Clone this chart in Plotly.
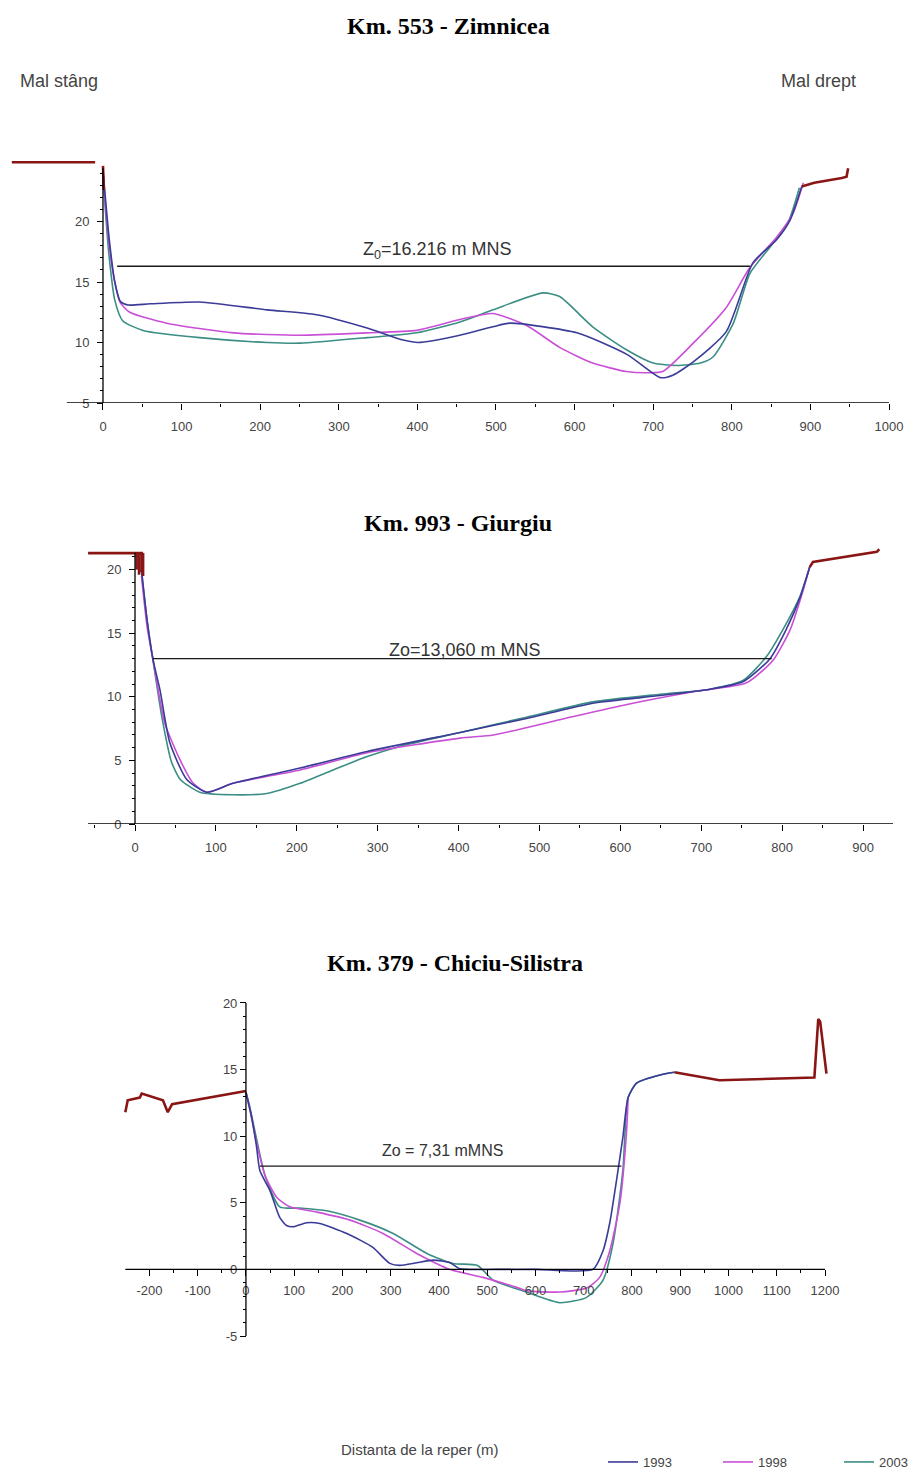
import plotly.graph_objects as go

# Screen is 921x1477; the page body adds an 8px offset, so the figure is drawn 8px in.
SW, SH = 921, 1477
OFF = 8
FW, FH = SW - OFF, SH - OFF


def fx(px):
    return (px - OFF) / FW


def fy(py):
    return 1 - (py - OFF) / FH


years = ["1993", "1998", "2003"]
colors = {"1993": "#3b3b98", "1998": "#c94fd6", "2003": "#3a8e84"}
bank_color = "#8a1515"

titles = ["Km. 553 - Zimnicea", "Km. 993 - Giurgiu", "Km. 379 - Chiciu-Silistra"]
zo_texts = ["Z<sub>0</sub>=16.216 m MNS", "Zo=13,060 m MNS", "Zo = 7,31 mMNS"]

# ---------------- Chart 1: Km 553 Zimnicea ----------------
c1_x_1993 = [0, 3, 8, 15, 22, 32, 60, 123, 209, 272, 336, 382, 401, 454, 496, 518, 603, 667, 709, 725, 751, 793, 827, 857, 874, 889]
c1_y_1993 = [24.3, 22.0, 18.5, 15.0, 13.4, 13.1, 13.2, 13.35, 12.7, 12.3, 11.2, 10.2, 10.0, 10.6, 11.3, 11.6, 10.8, 9.0, 7.1, 7.3, 8.4, 10.9, 16.6, 18.5, 20.1, 22.9]
c1_x_1998 = [0, 3, 8, 15, 22, 34, 81, 166, 251, 336, 399, 454, 496, 539, 581, 623, 666, 692, 712, 751, 793, 823, 857, 878, 891]
c1_y_1998 = [24.0, 21.5, 18.0, 15.0, 13.3, 12.5, 11.6, 10.8, 10.6, 10.8, 11.0, 11.9, 12.4, 11.4, 9.6, 8.3, 7.6, 7.5, 7.6, 9.95, 12.9, 16.2, 18.7, 20.7, 23.2]
c1_x_2003 = [0, 3, 8, 15, 25, 51, 123, 209, 251, 336, 399, 454, 496, 560, 581, 623, 666, 700, 730, 760, 776, 802, 823, 850, 872, 886]
c1_y_2003 = [24.2, 21.0, 17.0, 13.5, 11.8, 11.0, 10.4, 10.0, 9.95, 10.4, 10.8, 11.7, 12.7, 14.1, 13.8, 11.3, 9.4, 8.3, 8.1, 8.3, 8.8, 11.6, 15.7, 18.0, 20.0, 22.8]
c1_bank_x = [-116, -10, None, 0, 1, None, 889, 905, 940, 946, 948]
c1_bank_y = [24.9, 24.9, None, 24.6, 22.6, None, 22.9, 23.2, 23.6, 23.7, 24.4]

# ---------------- Chart 2: Km 993 Giurgiu ----------------
c2_x_1993 = [8, 15, 22, 31, 43, 64, 89, 121, 204, 287, 402, 484, 566, 649, 711, 752, 785, 805, 822, 834]
c2_y_1993 = [20.0, 16.0, 13.0, 10.5, 6.4, 3.5, 2.5, 3.2, 4.4, 5.7, 7.2, 8.3, 9.5, 10.1, 10.6, 11.2, 13.0, 15.3, 17.8, 20.2]
c2_x_1998 = [8, 15, 22, 37, 56, 72, 89, 121, 204, 287, 402, 443, 525, 608, 690, 756, 789, 810, 826, 834]
c2_y_1998 = [19.5, 15.5, 13.0, 7.9, 5.0, 3.2, 2.5, 3.2, 4.25, 5.6, 6.75, 7.0, 8.2, 9.4, 10.4, 11.1, 12.9, 15.3, 18.4, 20.2]
c2_x_2003 = [8, 15, 22, 33, 45, 56, 80, 121, 163, 204, 245, 287, 327, 402, 484, 566, 649, 711, 752, 781, 801, 822, 834]
c2_y_2003 = [19.8, 16.0, 13.0, 8.5, 4.9, 3.5, 2.5, 2.3, 2.4, 3.2, 4.25, 5.3, 6.1, 7.2, 8.4, 9.6, 10.2, 10.6, 11.3, 13.2, 15.3, 17.9, 20.2]
c2_bank_x = [-58, 10, None, 2, 2, None, 5, 5, None, 8, 8, None, 10, 10, None, 834, 838, 917, 920]
c2_bank_y = [21.3, 21.3, None, 21.3, 20.0, None, 21.3, 19.6, None, 21.3, 19.8, None, 21.3, 19.5, None, 20.2, 20.6, 21.4, 21.6]

# ---------------- Chart 3: Km 379 Chiciu-Silistra ----------------
c3_x_1993 = [0, 12, 22, 29, 50, 70, 84, 98, 126, 153, 209, 263, 298, 319, 354, 388, 423, 443, 520, 600, 719, 740, 754, 768, 781, 792, 810, 858, 888]
c3_y_1993 = [13.3, 11.4, 9.2, 7.4, 5.9, 3.9, 3.3, 3.2, 3.5, 3.45, 2.7, 1.65, 0.45, 0.3, 0.5, 0.7, 0.5, 0.05, 0.0, 0.0, 0.0, 1.4, 3.5, 6.7, 9.9, 12.9, 14.0, 14.6, 14.8]
c3_x_1998 = [0, 8, 22, 40, 64, 91, 147, 216, 284, 354, 423, 491, 561, 581, 650, 706, 733, 754, 775, 789, 792]
c3_y_1998 = [13.3, 12.0, 9.5, 7.0, 5.4, 4.7, 4.3, 3.7, 2.7, 1.2, 0.0, -0.6, -1.35, -1.6, -1.7, -1.4, -0.6, 1.4, 5.0, 10.5, 12.9]
c3_x_2003 = [0, 8, 22, 40, 70, 112, 167, 236, 305, 375, 429, 480, 512, 581, 650, 706, 740, 761, 781, 792, 810, 858, 888]
c3_y_2003 = [13.3, 12.2, 9.8, 7.0, 4.7, 4.6, 4.4, 3.7, 2.7, 1.2, 0.45, 0.3, -0.8, -1.7, -2.5, -2.1, -0.8, 2.0, 7.4, 12.9, 14.0, 14.6, 14.8]
c3_bank_x = [-250, -245, -220, -216, -172, -162, -153, -33, 0, None, 888, 981, 1178, 1186, 1190, 1203]
c3_bank_y = [11.8, 12.7, 12.9, 13.2, 12.7, 11.8, 12.4, 13.2, 13.4, None, 14.8, 14.2, 14.4, 18.8, 18.6, 14.7]

# Water level lines (Zo)
zo_levels = [16.3, 13.0, 7.75]
zo_x0 = [18, 22, 29]
zo_x1 = [823, 787, 778]
zo_label_x = [425, 408, 408]
zo_label_y = [17.6, 13.7, 8.95]
zo_label_size = [18, 18, 16]

# Tick values
c1_xticks = list(range(0, 1001, 100))
c1_yticks = [5, 10, 15, 20]
c2_xticks = list(range(0, 901, 100))
c2_yticks = [0, 5, 10, 15, 20]
c3_xticks = list(range(-200, 1201, 100))
c3_yticks = [-5, 0, 5, 10, 15, 20]

series = {
    1: {"1993": (c1_x_1993, c1_y_1993), "1998": (c1_x_1998, c1_y_1998), "2003": (c1_x_2003, c1_y_2003), "bank": (c1_bank_x, c1_bank_y)},
    2: {"1993": (c2_x_1993, c2_y_1993), "1998": (c2_x_1998, c2_y_1998), "2003": (c2_x_2003, c2_y_2003), "bank": (c2_bank_x, c2_bank_y)},
    3: {"1993": (c3_x_1993, c3_y_1993), "1998": (c3_x_1998, c3_y_1998), "2003": (c3_x_2003, c3_y_2003), "bank": (c3_bank_x, c3_bank_y)},
}

# ------------- layout geometry (screen pixels) -------------
geo = {
    1: dict(px=(10, 900, 155, 403), xr=(-118.3, 1014.0), yr=(5.0, 25.5),
            xline=(-46, 1000), yline=(5, 24.4), xaxis_at=5.0, xstand=5, ystand=5),
    2: dict(px=(85, 900, 548, 824), xr=(-61.8, 945.6), yr=(0.0, 21.7),
            xline=(-58, 937), yline=(0, 21.3), xaxis_at=0.0, xstand=5, ystand=5),
    3: dict(px=(120, 835, 995, 1340), xr=(-261.0, 1220.7), yr=(-5.3, 20.6),
            xline=(-250, 1200), yline=(-5, 20), xaxis_at=0.0, xstand=3, ystand=0),
}
xticks = {1: c1_xticks, 2: c2_xticks, 3: c3_xticks}
yticks = {1: c1_yticks, 2: c2_yticks, 3: c3_yticks}
xminor = {1: list(range(50, 1000, 100)), 2: list(range(-50, 950, 100)), 3: list(range(-150, 1200, 100))}
yminor = {1: list(range(5, 25)), 2: list(range(0, 22)), 3: list(range(-5, 21))}

fig = go.Figure()
tickfont = dict(family="Liberation Sans, Arial, sans-serif", size=13, color="#444444")
shapes = []
annotations = []
legend_for = {"1993": "legend", "1998": "legend2", "2003": "legend3"}

for i in (1, 2, 3):
    xa = "x" if i == 1 else f"x{i}"
    ya = "y" if i == 1 else f"y{i}"
    s = series[i]
    for yr in ["2003", "1998", "1993"]:
        xs, ys = s[yr]
        fig.add_trace(go.Scatter(
            x=xs, y=ys, mode="lines", xaxis=xa, yaxis=ya,
            line=dict(color=colors[yr], width=1.6, shape="spline", smoothing=0.6),
            name=yr, legendgroup=yr, showlegend=(i == 1), legend=legend_for[yr],
        ))
    bx, by = s["bank"]
    fig.add_trace(go.Scatter(x=bx, y=by, mode="lines", xaxis=xa, yaxis=ya,
                             line=dict(color=bank_color, width=2.6),
                             showlegend=False, hoverinfo="skip"))
    fig.add_trace(go.Scatter(x=[zo_x0[i - 1], zo_x1[i - 1]], y=[zo_levels[i - 1]] * 2,
                             mode="lines", xaxis=xa, yaxis=ya,
                             line=dict(color="#1a1a1a", width=1.4),
                             showlegend=False, hoverinfo="skip"))
    annotations.append(dict(x=zo_label_x[i - 1], y=zo_label_y[i - 1], xref=xa, yref=ya,
                            text=zo_texts[i - 1], showarrow=False,
                            font=dict(family="Liberation Sans, Arial, sans-serif",
                                      size=zo_label_size[i - 1], color="#333333")))

    g = geo[i]
    l, r, t, b = g["px"]
    xdom = [fx(l), fx(r)]
    ydom = [fy(b), fy(t)]
    x0, x1 = g["xr"]
    y0, y1 = g["yr"]
    ypos = xdom[0] + (0 - x0) / (x1 - x0) * (xdom[1] - xdom[0])
    xpos = ydom[0] + (g["xaxis_at"] - y0) / (y1 - y0) * (ydom[1] - ydom[0])

    xkey = "xaxis" if i == 1 else f"xaxis{i}"
    ykey = "yaxis" if i == 1 else f"yaxis{i}"
    fig.update_layout({
        xkey: dict(domain=xdom, range=[x0, x1], anchor="free", position=xpos,
                   showgrid=False, zeroline=False, showline=False, automargin=False,
                   tickmode="array", tickvals=xticks[i], ticktext=[str(v) for v in xticks[i]],
                   ticks="outside", ticklen=6, tickwidth=1.2, tickcolor="black", tickfont=tickfont,
                   ticklabelstandoff=g["xstand"],
                   minor=dict(tickvals=xminor[i], ticks="outside", ticklen=3, tickcolor="black"),
                   fixedrange=True),
        ykey: dict(domain=ydom, range=[y0, y1], anchor="free", position=ypos,
                   showgrid=False, zeroline=False, showline=False, automargin=False,
                   tickmode="array", tickvals=yticks[i], ticktext=[str(v) for v in yticks[i]],
                   ticks="outside", ticklen=6, tickwidth=1.2, tickcolor="black", tickfont=tickfont,
                   ticklabelstandoff=g["ystand"],
                   minor=dict(tickvals=yminor[i], ticks="outside", ticklen=3, tickcolor="black"),
                   fixedrange=True),
    })
    shapes.append(dict(type="line", xref=xa, yref=ya, x0=g["xline"][0], x1=g["xline"][1],
                       y0=g["xaxis_at"], y1=g["xaxis_at"], line=dict(color="black", width=1.3)))
    shapes.append(dict(type="line", xref=xa, yref=ya, x0=0, x1=0,
                       y0=g["yline"][0], y1=g["yline"][1], line=dict(color="black", width=1.3)))

# Titles
title_pos = [(448, 26), (458, 523), (455, 963)]
for (tx, ty), txt in zip(title_pos, titles):
    annotations.append(dict(x=fx(tx), y=fy(ty), xref="paper", yref="paper", text=f"<b>{txt}</b>",
                            showarrow=False, xanchor="center", yanchor="middle",
                            font=dict(family="Liberation Serif, Times New Roman, serif", size=24, color="black")))

side_font = dict(family="Liberation Sans, Arial, sans-serif", size=18, color="#444444")
label_font = dict(family="Liberation Sans, Arial, sans-serif", size=15, color="#444444")
annotations.append(dict(x=fx(18), y=fy(81), xref="paper", yref="paper", text="Mal stâng",
                        showarrow=False, xanchor="left", yanchor="middle", font=side_font))
annotations.append(dict(x=fx(858), y=fy(81), xref="paper", yref="paper", text="Mal drept",
                        showarrow=False, xanchor="right", yanchor="middle", font=side_font))
annotations.append(dict(x=fx(420), y=fy(1449), xref="paper", yref="paper", text="Distanta de la reper (m)",
                        showarrow=False, xanchor="center", yanchor="middle", font=label_font))

leg_font = dict(family="Liberation Sans, Arial, sans-serif", size=13, color="#444444")
leg_common = dict(orientation="h", xanchor="left", yanchor="middle", bgcolor="rgba(0,0,0,0)",
                  font=leg_font, y=fy(1462))

fig.update_layout(
    width=FW, height=FH,
    margin=dict(l=0, r=0, t=0, b=0, autoexpand=False),
    paper_bgcolor="white", plot_bgcolor="white",
    shapes=shapes, annotations=annotations,
    showlegend=True,
    legend=dict(x=fx(603), **leg_common),
    legend2=dict(x=fx(718), **leg_common),
    legend3=dict(x=fx(839), **leg_common),
)

fig.write_html("out.html")
